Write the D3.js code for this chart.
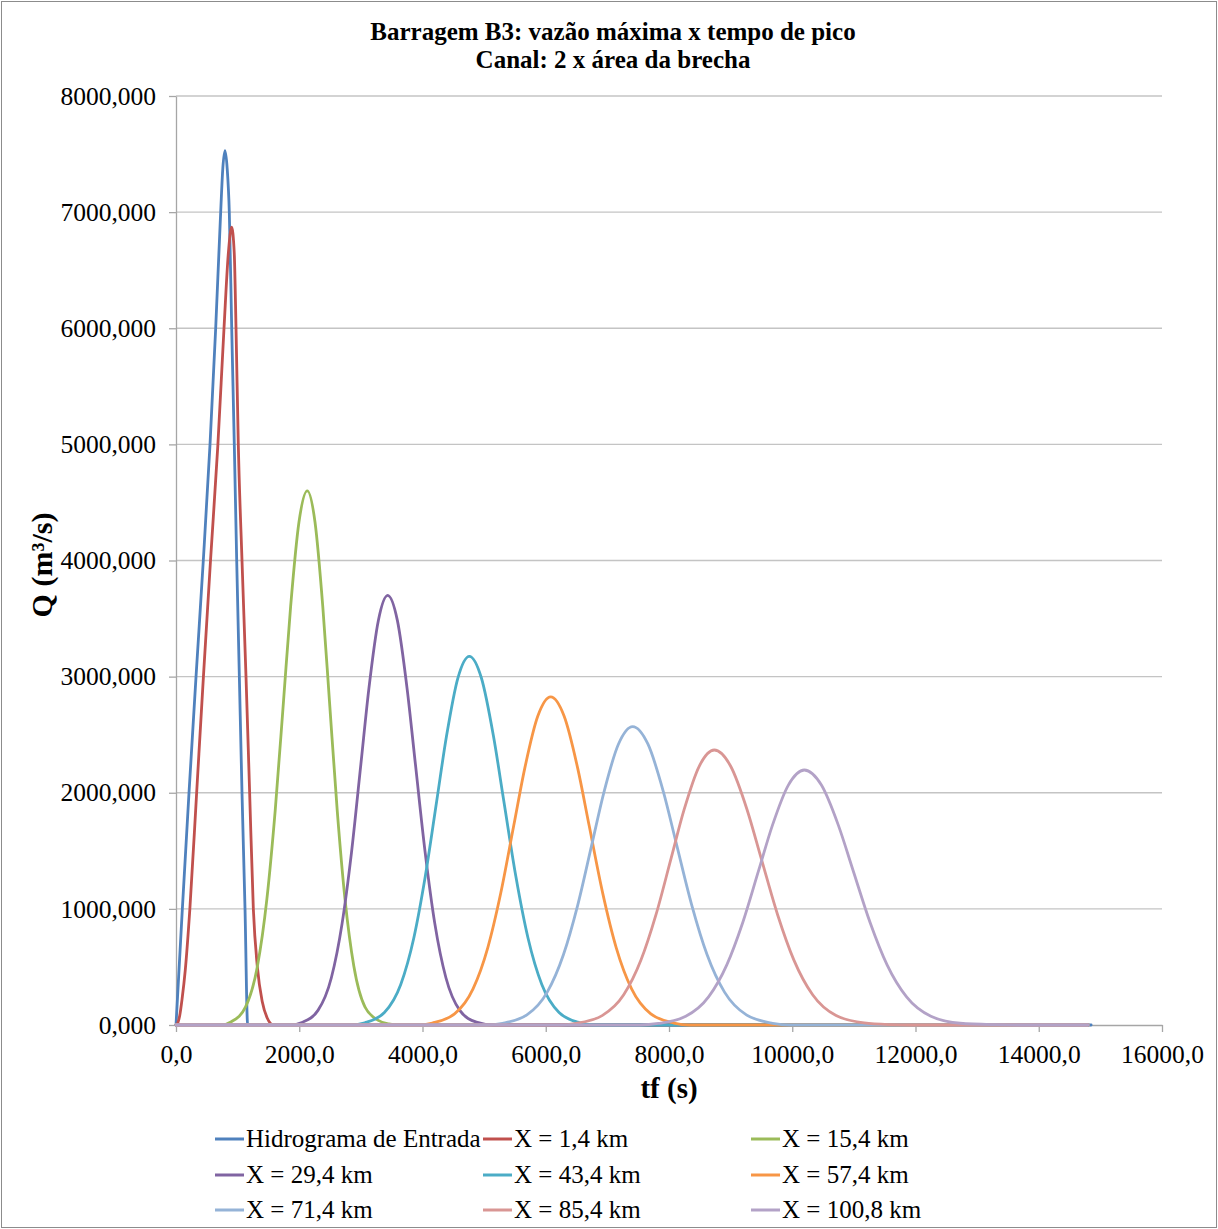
<!DOCTYPE html>
<html lang="pt">
<head>
<meta charset="utf-8">
<title>Barragem B3: vazão máxima x tempo de pico</title>
<script src="https://cdn.jsdelivr.net/npm/d3@7"></script>
<style>
  html, body { margin: 0; padding: 0; background: #fff; }
  svg { display: block; font-family: "Liberation Serif", "Times New Roman", serif; }
</style>
</head>
<body>
<svg id="chart" width="1218" height="1229"></svg>
<script>
// Hidrogramas: tempo (s) e vazão (m³/s) por seção
const tEntrada = [0, 103, 211, 325, 443, 552, 644, 725, 760, 795, 830, 865, 904, 946, 985, 1028, 1071, 1120, 1163, 14850];
const qEntrada = [0, 1000, 2000, 3000, 4000, 5000, 6000, 7000, 7380, 7530, 7380, 7000, 6000, 5000, 4000, 3000, 2000, 1000, 0, 0];

const tX1_4 = [0, 30, 60, 100, 150, 225, 335, 445, 560, 680, 779, 850, 903, 945, 974, 1011, 1071, 1136, 1195, 1255, 1320, 1400, 1480, 1580, 14800];
const qX1_4 = [0, 20, 80, 230, 470, 1000, 2000, 3000, 4000, 5000, 6000, 6650, 6870, 6650, 6000, 5000, 4000, 3000, 2000, 1000, 500, 200, 60, 0, 0];

const tX15_4 = [0, 744, 898, 1129, 1321, 1475, 1610, 1745, 1860, 1995, 2130, 2256, 2382, 2490, 2616, 2742, 2886, 3066, 3282, 3450, 3600, 14800];
const qX15_4 = [0, 0, 28, 156, 506, 1086, 1849, 2792, 3602, 4329, 4600, 4329, 3602, 2792, 1849, 1086, 506, 156, 40, 10, 0, 0];

const tX29_4 = [0, 1869, 2043, 2304, 2521, 2695, 2848, 3000, 3130, 3283, 3435, 3593, 3750, 3885, 4043, 4200, 4380, 4605, 4875, 5150, 14800];
const qX29_4 = [0, 0, 22, 126, 407, 873, 1487, 2246, 2897, 3482, 3700, 3482, 2897, 2246, 1487, 873, 407, 126, 25, 0, 0];

const tX43_4 = [0, 2852, 3064, 3382, 3647, 3859, 4044, 4230, 4389, 4574, 4760, 4956, 5152, 5320, 5516, 5712, 5936, 6216, 6552, 6776, 14800];
const qX43_4 = [0, 0, 19, 108, 349, 749, 1276, 1927, 2486, 2988, 3175, 2988, 2486, 1927, 1276, 749, 349, 108, 19, 0, 0];

const tX57_4 = [0, 3920, 4160, 4520, 4820, 5060, 5270, 5480, 5660, 5870, 6080, 6299, 6518, 6705, 6924, 7143, 7393, 7705, 8080, 8330, 14800];
const qX57_4 = [0, 0, 17, 96, 311, 667, 1136, 1715, 2212, 2658, 2825, 2658, 2212, 1715, 1136, 667, 311, 96, 17, 0, 0];

const tX71_4 = [0, 5034, 5298, 5694, 6024, 6288, 6519, 6750, 6948, 7179, 7410, 7659, 7907, 8120, 8369, 8617, 8901, 9256, 9682, 9966, 14800];
const qX71_4 = [0, 0, 15, 87, 283, 607, 1033, 1560, 2012, 2418, 2570, 2418, 2012, 1560, 1033, 607, 283, 87, 15, 0, 0];

const tX85_4 = [0, 6215, 6495, 6915, 7265, 7545, 7790, 8035, 8245, 8490, 8735, 9001, 9267, 9495, 9761, 10027, 10331, 10711, 11167, 11600, 11900, 14800];
const qX85_4 = [0, 0, 14, 81, 260, 559, 952, 1437, 1854, 2228, 2368, 2228, 1854, 1437, 952, 559, 260, 81, 18, 3, 0, 0];

const tX100_8 = [0, 7532, 7828, 8272, 8642, 8938, 9197, 9456, 9678, 9937, 10196, 10473, 10749, 10986, 11263, 11539, 11855, 12250, 12724, 13300, 13700, 14800];
const qX100_8 = [0, 0, 13, 75, 242, 518, 883, 1333, 1719, 2066, 2196, 2066, 1719, 1333, 883, 518, 242, 75, 15, 3, 0, 0];

const seriesNames = ["Hidrograma de Entrada", "X = 1,4 km", "X = 15,4 km", "X = 29,4 km", "X = 43,4 km",
                     "X = 57,4 km", "X = 71,4 km", "X = 85,4 km", "X = 100,8 km"];
const seriesTimes = [tEntrada, tX1_4, tX15_4, tX29_4, tX43_4, tX57_4, tX71_4, tX85_4, tX100_8];
const seriesFlows = [qEntrada, qX1_4, qX15_4, qX29_4, qX43_4, qX57_4, qX71_4, qX85_4, qX100_8];

const xTicks = [0, 2000, 4000, 6000, 8000, 10000, 12000, 14000, 16000];
const yTicks = [0, 1000, 2000, 3000, 4000, 5000, 6000, 7000, 8000];

const titleLines = ["Barragem B3: vazão máxima x tempo de pico", "Canal: 2 x área da brecha"];
const xTitle = "tf (s)";
const yTitle = "Q (m³/s)";

// Estilo das séries
const colors = ["#4F81BD", "#C0504D", "#9BBB59", "#8064A2", "#4BACC6",
                "#F79646", "#95B3D7", "#D99694", "#B3A2C7"];

const W = 1218, H = 1229;
const plot = { left: 176, right: 1162, top: 96, bottom: 1025 };
const serif = "Liberation Serif, Times New Roman, serif";

const svg = d3.select("#chart");

// moldura externa
svg.append("rect")
  .attr("x", 1.5).attr("y", 1.5)
  .attr("width", W - 3).attr("height", H - 3)
  .attr("fill", "#fff").attr("stroke", "#8c8c8c").attr("stroke-width", 1);

const x = d3.scaleLinear().domain([0, 16000]).range([plot.left, plot.right]);
const y = d3.scaleLinear().domain([0, 8000]).range([plot.bottom, plot.top]);

const fmtY = v => d3.format(".3f")(v).replace(".", ",");
const fmtX = v => d3.format(".1f")(v).replace(".", ",");

// linhas de grade horizontais
svg.append("g").selectAll("line")
  .data(yTicks.filter(v => v > 0))
  .join("line")
  .attr("x1", plot.left).attr("x2", plot.right)
  .attr("y1", d => y(d)).attr("y2", d => y(d))
  .attr("stroke", "#c4c4c4").attr("stroke-width", 1.3);

// eixo Y
const gy = svg.append("g")
  .attr("transform", `translate(${plot.left},0)`)
  .call(d3.axisLeft(y).tickValues(yTicks).tickFormat(fmtY).tickSize(7).tickSizeOuter(0).tickPadding(13));
gy.attr("font-family", serif).attr("font-size", 25.5);
gy.select(".domain").attr("stroke", "#a6a6a6").attr("stroke-width", 1.3);
gy.selectAll(".tick line").attr("stroke", "#a6a6a6").attr("stroke-width", 1.3);
gy.selectAll(".tick text").attr("fill", "#000");

// eixo X
const gx = svg.append("g")
  .attr("transform", `translate(0,${plot.bottom})`)
  .call(d3.axisBottom(x).tickValues(xTicks).tickFormat(fmtX).tickSize(7).tickSizeOuter(0).tickPadding(13));
gx.attr("font-family", serif).attr("font-size", 25.5);
gx.select(".domain").attr("stroke", "#a6a6a6").attr("stroke-width", 1.3);
gx.selectAll(".tick line").attr("stroke", "#a6a6a6").attr("stroke-width", 1.3);
gx.selectAll(".tick text").attr("fill", "#000");

// curvas suavizadas
const line = d3.line()
  .x(d => x(d[0]))
  .y(d => y(d[1]))
  .curve(d3.curveMonotoneX);

const gLines = svg.append("g")
  .attr("fill", "none").attr("stroke-linejoin", "round").attr("stroke-linecap", "round");
seriesNames.forEach((name, i) => {
  const pts = seriesTimes[i].map((t, k) => [t, seriesFlows[i][k]]);
  gLines.append("path")
    .datum(pts)
    .attr("d", line)
    .attr("stroke", colors[i])
    .attr("stroke-width", 2.8);
});

// título
const title = svg.append("text")
  .attr("text-anchor", "middle")
  .attr("font-weight", "bold")
  .attr("font-size", 25)
  .attr("fill", "#000");
titleLines.forEach((t, i) => {
  title.append("tspan").attr("x", 613).attr("y", 40 + i * 28).text(t);
});

// títulos dos eixos
svg.append("text")
  .attr("x", 669).attr("y", 1098)
  .attr("text-anchor", "middle")
  .attr("font-weight", "bold").attr("font-size", 29)
  .text(xTitle);

svg.append("text")
  .attr("transform", "translate(52,565) rotate(-90)")
  .attr("text-anchor", "middle")
  .attr("font-weight", "bold").attr("font-size", 30)
  .text(yTitle);

// legenda
const legendCols = [215, 483, 751];
const legendRows = [1139, 1175, 1210];
const legendSlots = [
  [0, 0], [1, 0], [2, 0],
  [0, 1], [1, 1], [2, 1],
  [0, 2], [1, 2], [2, 2]
];
const gLeg = svg.append("g");
seriesNames.forEach((name, i) => {
  const [c, r] = legendSlots[i];
  const lx = legendCols[c], ly = legendRows[r];
  gLeg.append("line")
    .attr("x1", lx).attr("x2", lx + 29)
    .attr("y1", ly).attr("y2", ly)
    .attr("stroke", colors[i]).attr("stroke-width", 3);
  gLeg.append("text")
    .attr("x", lx + 31).attr("y", ly + 8)
    .attr("font-size", 25).attr("fill", "#000")
    .text(name);
});
</script>
</body>
</html>
